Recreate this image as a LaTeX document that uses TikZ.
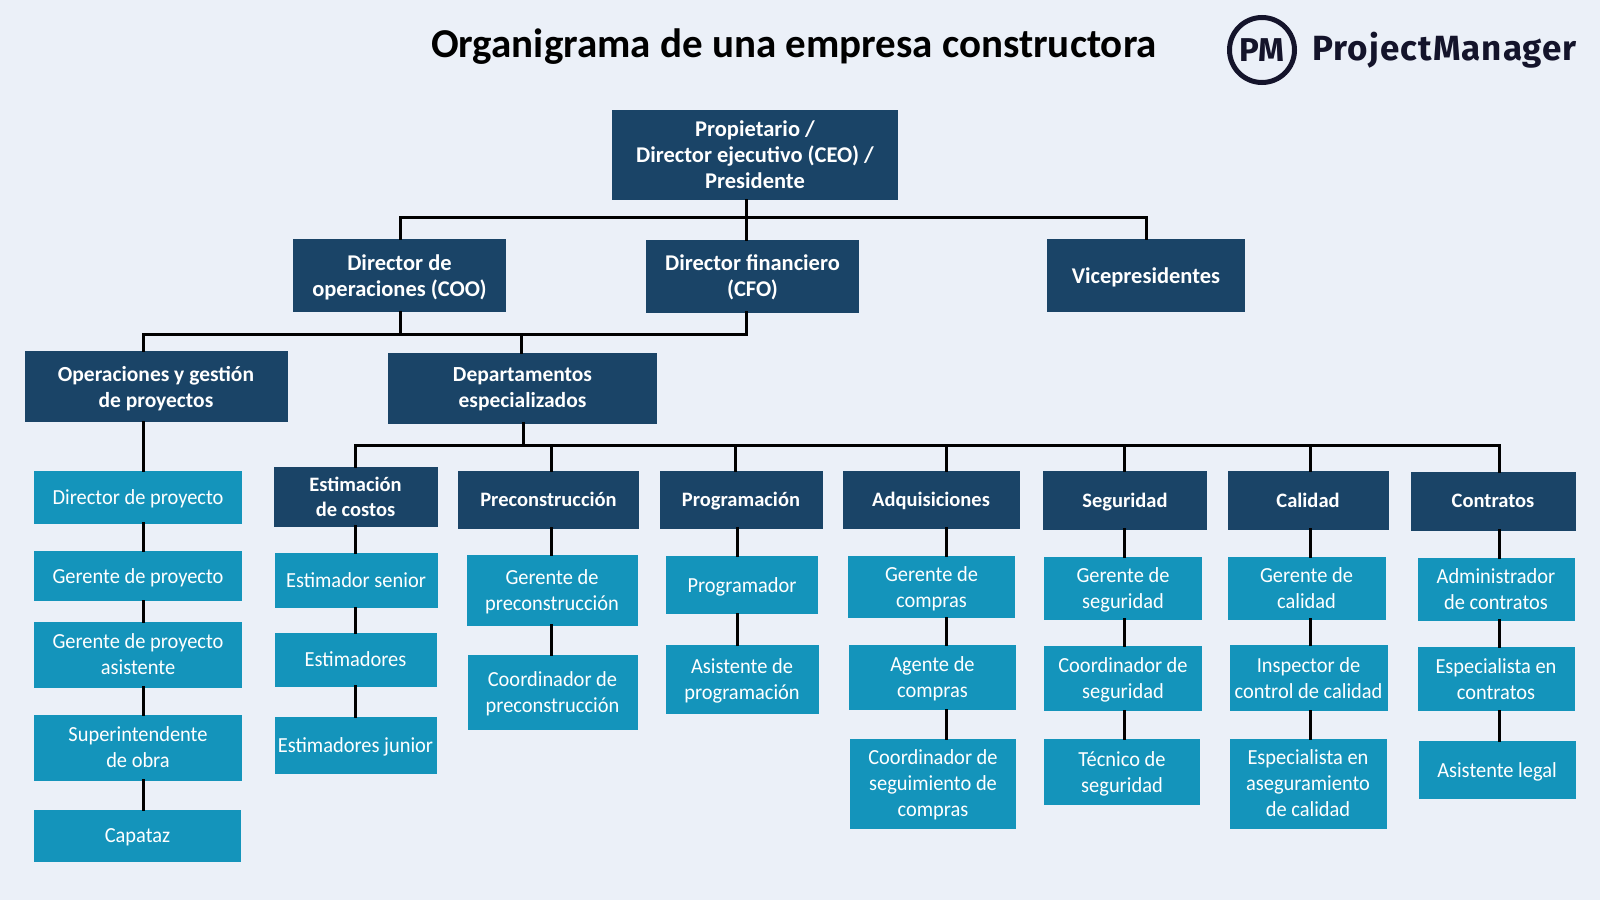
\documentclass[tikz,border=0pt]{standalone}
\usepackage{fontspec}
\setmainfont{Carlito}
\newfontfamily\narrowfont[FakeStretch=0.95]{Carlito}
\newfontfamily\logofont[LetterSpace=3]{Fira Sans}
\definecolor{pagebg}{HTML}{EBF0F8}
\definecolor{headblue}{HTML}{1A4467}
\definecolor{leafblue}{HTML}{1494BB}
\definecolor{logoink}{HTML}{14142B}
\begin{document}
\begin{tikzpicture}[x=1pt,y=-1pt,%
% common options for the dark boxes:
head/.style = {rectangle, fill=headblue, text=white, align=center, inner sep=0, text depth=0pt,
            font=\fontsize{21.5}{26}\selectfont\bfseries},
% the top levels are set a little larger, the departments a little smaller:
top/.style = {head, font=\fontsize{22.5}{26}\selectfont\bfseries},
dept/.style = {head, font=\fontsize{20.5}{25}\selectfont\bfseries},
% common options for the light boxes:
leaf/.style = {rectangle, fill=leafblue, text=white, align=center, inner sep=0, text depth=0pt,
            font=\narrowfont\fontsize{21.5}{26}\selectfont},
wh/.style 2 args = {minimum width=#1pt, minimum height=#2pt},
wire/.style = {draw=black, line width=3pt, line cap=rect}]
\fill[pagebg] (0,0) rectangle (1600,900);
\useasboundingbox (0,0) rectangle (1600,900);
% title and logo
\node[font=\fontsize{41}{46}\selectfont\bfseries, text=black] (T0) at (794,47) {Organigrama de una empresa constructora};
\node[circle, draw=logoink, line width=5pt, minimum size=65pt, inner sep=0, text=logoink,
      font=\fontspec{Fira Sans}\fontsize{33}{38}\selectfont\bfseries] (L0) at (1262,50) {PM};
\node[anchor=west, text=logoink, font=\logofont\fontsize{35}{40}\selectfont\bfseries] (L1) at (1309,50) {ProjectManager};
% top levels
\node[top,wh={286}{90}] (R0) at (755,155) {Propietario /\\Director ejecutivo (CEO) /\\Presidente};
\node[top,wh={213}{73}] (R1) at (399.5,275.5) {Director de\\operaciones (COO)};
\node[top,wh={213}{73}] (R2) at (752.5,276) {Director financiero\\(CFO)};
\node[top,wh={198}{73}] (R3) at (1146,275.5) {Vicepresidentes};
\node[head,wh={263}{71}] (S1) at (156,386.5) {Operaciones y gestión\\de proyectos};
\node[head,wh={269}{71}] (S2) at (522.5,388) {Departamentos\\especializados};
% left column
\node[leaf,wh={208}{53}] (A1) at (138,497) {Director de proyecto};
\node[leaf,wh={208}{50}] (A2) at (138,576) {Gerente de proyecto};
\node[leaf,wh={208}{66}] (A3) at (138,654.5) {Gerente de proyecto\\asistente};
\node[leaf,wh={208}{66}] (A4) at (138,747.5) {Superintendente\\de obra};
\node[leaf,wh={207}{52}] (A5) at (137.5,836) {Capataz};
% estimating
\node[dept,wh={164}{60}] (B0) at (355.5,496.5) {Estimación\\de costos};
\node[leaf,wh={163}{55}] (B1) at (356,580.5) {Estimador senior};
\node[leaf,wh={162}{54}] (B2) at (355.5,659.5) {Estimadores};
\node[leaf,wh={162}{57}] (B3) at (355.5,745) {Estimadores junior};
% preconstruction
\node[dept,wh={181}{58}] (C0) at (548.5,499.5) {Preconstrucción};
\node[leaf,wh={171}{71}] (C1) at (552,590) {Gerente de\\preconstrucción};
\node[leaf,wh={170}{75}] (C2) at (552.5,692) {Coordinador de\\preconstrucción};
% scheduling
\node[dept,wh={163}{58}] (D0) at (741,499.5) {Programación};
\node[leaf,wh={152}{58}] (D1) at (742,585) {Programador};
\node[leaf,wh={153}{69}] (D2) at (742,679.5) {Asistente de\\programación};
% purchasing
\node[dept,wh={177}{58}] (E0) at (931,499.5) {Adquisiciones};
\node[leaf,wh={167}{62}] (E1) at (931.5,587) {Gerente de\\compras};
\node[leaf,wh={167}{65}] (E2) at (932.5,677.5) {Agente de\\compras};
\node[leaf,wh={166}{90}] (E3) at (933,783.5) {Coordinador de\\seguimiento de\\compras};
% safety
\node[dept,wh={164}{59}] (F0) at (1125,500) {Seguridad};
\node[leaf,wh={158}{63}] (F1) at (1123,588) {Gerente de\\seguridad};
\node[leaf,wh={158}{65}] (F2) at (1123,678.5) {Coordinador de\\seguridad};
\node[leaf,wh={156}{66}] (F3) at (1122,772) {Técnico de\\seguridad};
% quality
\node[dept,wh={161}{59}] (G0) at (1308,500) {Calidad};
\node[leaf,wh={158}{63}] (G1) at (1306.5,588) {Gerente de\\calidad};
\node[leaf,wh={158}{66}] (G2) at (1308.5,678) {Inspector de\\control de calidad};
\node[leaf,wh={157}{90}] (G3) at (1308,783.5) {Especialista en\\aseguramiento\\de calidad};
% contracts
\node[dept,wh={165}{59}] (H0) at (1493,501) {Contratos};
\node[leaf,wh={157}{63}] (H1) at (1496,589) {Administrador\\de contratos};
\node[leaf,wh={157}{64}] (H2) at (1496,679) {Especialista en\\contratos};
\node[leaf,wh={157}{58}] (H3) at (1497,770) {Asistente legal};
% where the buses and drops run
\coordinate (busR) at (746,217);
\coordinate (busS) at (400,334);
\coordinate (busT) at (523.5,445);
\coordinate (x1) at (143.5,0);
\coordinate (x2) at (521,0);
\coordinate (xa) at (143.5,0);
\coordinate (xb) at (355.5,0);
\coordinate (xc) at (551,0);
\coordinate (xd) at (735,0);
\coordinate (xd1) at (737,0);
\coordinate (xe) at (946.5,0);
\coordinate (xf) at (1124.5,0);
\coordinate (xg) at (1310,0);
\coordinate (xh) at (1499,0);
% first bus
\draw[wire] (R0.south -| busR) to (busR);
\draw[wire] (R1.north -| busS) to (busS |- busR) to (R3.north |- busR) to (R3.north);
\draw[wire] (busR) to (R2.north -| busR);
% second bus
\draw[wire] (R1.south -| busS) to (busS);
\draw[wire] (R2.south -| busR) to (busR |- busS) to (x1 |- busS) to (S1.north -| x1);
\draw[wire] (x2 |- busS) to (S2.north -| x2);
% third bus
\draw[wire] (S2.south -| busT) to (busT);
\draw[wire] (B0.north -| xb) to (xb |- busT) to (xh |- busT) to (H0.north -| xh);
\foreach \i/\x in {C0/xc,D0/xd,E0/xe,F0/xf,G0/xg}
  \draw[wire] (\x |- busT) to (\i.north -| \x);
% left column
\draw[wire] (S1.south -| xa) to (A1.north -| xa);
\foreach \a/\b in {A1/A2,A2/A3,A3/A4,A4/A5}
  \draw[wire] (\a.south -| xa) to (\b.north -| xa);
% the departments
\foreach \a/\b/\x in {B0/B1/xb,B1/B2/xb,B2/B3/xb,C0/C1/xc,C1/C2/xc,D0/D1/xd1,D1/D2/xd1,
    E0/E1/xe,E1/E2/xe,E2/E3/xe,F0/F1/xf,F1/F2/xf,F2/F3/xf,G0/G1/xg,G1/G2/xg,G2/G3/xg,
    H0/H1/xh,H1/H2/xh,H2/H3/xh}
  \draw[wire] (\a.south -| \x) to (\b.north -| \x);
\end{tikzpicture}
\end{document}
